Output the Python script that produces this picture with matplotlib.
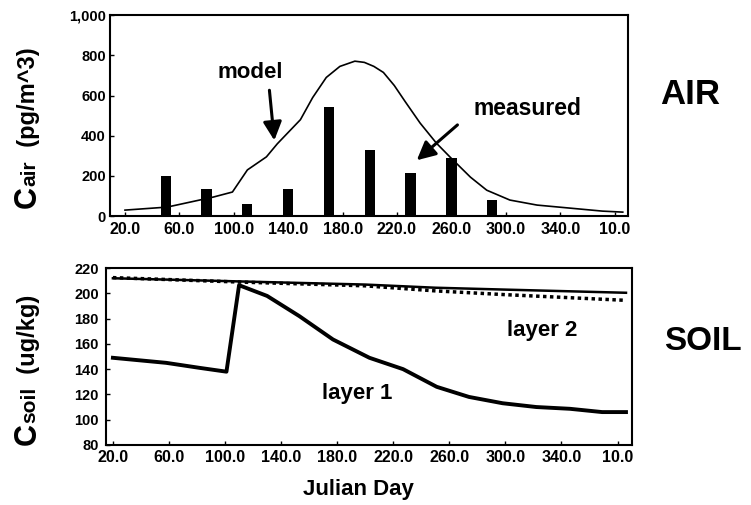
import numpy as np
import matplotlib.pyplot as plt
from matplotlib.ticker import FuncFormatter

plt.rcParams['font.family'] = ['Liberation Sans', 'DejaVu Sans']
plt.rcParams['font.weight'] = 'bold'

# ---- data ----
# air: measured concentration (bars) and model curve, pg/m^3
bar_days = [50, 80, 110, 140, 170, 200, 230, 260, 290]
bar_vals = [200, 135, 58, 135, 543, 328, 215, 290, 80]

model_days = [20, 51, 68, 85, 99, 110, 124, 132, 149, 158, 168, 178, 189, 196,
              203, 210, 218, 226, 237, 249, 259, 274, 286, 303, 323, 347, 371,
              386]
model_vals = [30, 45, 70, 95, 120, 230, 295, 360, 480, 590, 690, 745, 771, 765,
              745, 715, 650, 570, 463, 363, 294, 194, 129, 80, 55, 40, 25, 20]

# soil: layer 1 and layer 2, ug/kg
layer1_days = [20, 58, 82, 101, 110, 130, 153, 177, 203, 227, 251, 274, 298,
               322, 346, 369, 386]
layer1_vals = [149, 145, 141, 138, 206.5, 198, 182, 163.5, 149, 140, 126, 118,
               113, 110, 108.6, 106, 106]

layer2_days = [20, 110, 200, 250, 300, 386]
layer2_vals = [212, 209.5, 207, 204.5, 203, 200.5]

layer2b_days = [20, 110, 200, 250, 300, 386]
layer2b_vals = [212.5, 209, 206, 202, 199, 194.5]

xticks = [20, 60, 100, 140, 180, 220, 260, 300, 340, 380]
xticklabels = ["20.0", "60.0", "100.0", "140.0", "180.0", "220.0", "260.0",
               "300.0", "340.0", "10.0"]

fig = plt.figure(figsize=(7.51, 5.05), dpi=100)
ax1 = fig.add_axes([0.1465, 0.572, 0.690, 0.398])
ax2 = fig.add_axes([0.141, 0.119, 0.700, 0.350])

for ax in (ax1, ax2):
    for s in ax.spines.values():
        s.set_linewidth(1.5)
    ax.set_xticks(xticks)
    ax.set_xticklabels(xticklabels)
    ax.tick_params(direction='in', length=3, width=1, labelsize=11.5, pad=4)

# top panel
ax1.bar(bar_days, bar_vals, width=7.5, color='black')
ax1.plot(model_days, model_vals, color='black', lw=1.2)
ax1.set_xlim(9, 390)
ax1.set_ylim(0, 1000)
ax1.set_yticks([0, 200, 400, 600, 800, 1000])
ax1.yaxis.set_major_formatter(FuncFormatter(lambda v, p: f"{v:,.0f}"))
ax1.tick_params(axis='y', labelsize=10.5, pad=3)

arrow = dict(arrowstyle='-|>', lw=2.2, color='black', mutation_scale=28)
ax1.annotate("", xy=(130, 363), xytext=(126, 640), arrowprops=arrow)
ax1.text(112, 716, "model", ha='center', va='center', fontsize=16)
ax1.annotate("", xy=(233, 269), xytext=(266, 463), arrowprops=arrow)
ax1.text(316, 537, "measured", ha='center', va='center', fontsize=16.5)

# bottom panel
ax2.plot(layer1_days, layer1_vals, color='black', lw=2.8)
ax2.plot(layer2_days, layer2_vals, color='black', lw=1.8)
ax2.plot(layer2b_days, layer2b_vals, color='black', lw=2.5, ls=(0, (1, 1)))
ax2.set_xlim(15, 390)
ax2.set_ylim(80, 220)
ax2.set_yticks([80, 100, 120, 140, 160, 180, 200, 220])
ax2.tick_params(axis='y', labelsize=10.5, pad=5)
ax2.text(194, 121, "layer 1", ha='center', va='center', fontsize=16)
ax2.text(326, 171, "layer 2", ha='center', va='center', fontsize=16)

fig.text(0.919, 0.812, "AIR", ha='center', va='center', fontsize=25)
fig.text(0.936, 0.323, "SOIL", ha='center', va='center', fontsize=24)
fig.text(0.477, 0.030, "Julian Day", ha='center', va='center', fontsize=16)

# rotated y labels built from pieces (big C, smaller subscript text)
renderer = fig.canvas.get_renderer()


def stacked_label(x, y, pieces):
    for txt, size in pieces:
        t = fig.text(x, y, txt, rotation=90, rotation_mode='anchor',
                     ha='left', va='baseline', fontsize=size)
        bb = t.get_window_extent(renderer)
        y += bb.height / fig.bbox.height


stacked_label(0.047, 0.588, [("C", 22), ("air", 15), ("  (pg/m^3)", 17)])
stacked_label(0.047, 0.119, [("C", 22), ("soil", 15), ("  (ug/kg)", 17)])

fig.savefig("out.png", dpi=100)
